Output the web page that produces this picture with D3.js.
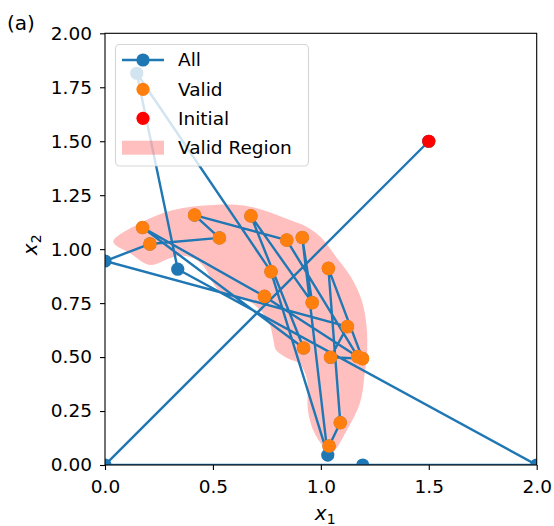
<!DOCTYPE html>
<html>
<head>
<meta charset="utf-8">
<script src="https://cdn.jsdelivr.net/npm/d3@7"></script>
<style>
  body { margin: 0; background: #fff; }
  text { font-family: "DejaVu Sans", sans-serif; fill: #000; }
</style>
</head>
<body>
<div id="chart"></div>
<script>
// trajectory, in visiting order (first point = initial guess)
const allX = [1.5, 0, 1.194, 2, 0.337, 0.147, 0.769, 1.032, 0.914, 0.960, 0.676, 0.920, 0.174,
  0.739, 1.171, 0.842, 0.415, 0.530, 0.208, 0, 1.123, 1.045, 1.193, 1.035, 1.090, 1.038];
const allY = [1.5, 0, 0, 0, 0.907, 1.815, 0.896, 0.046, 1.054, 0.752, 1.154, 0.542, 1.100,
  0.781, 0.502, 1.042, 1.158, 1.052, 1.024, 0.945, 0.641, 0.499, 0.493, 0.911, 0.196, 0.088];
const isValid = [0, 0, 0, 0, 0, 0, 1, 0, 1, 1, 1, 1, 1, 1, 1, 1, 1, 1, 1, 0, 1, 1, 1, 1, 1, 1];
const initial = [1.5, 1.5];

// valid region outline: outer edge then inner edge
const regionX = [0.038, 0.162, 0.316, 0.502, 0.672, 0.857, 0.934, 1.0, 1.07, 1.14, 1.189, 1.212,
  1.214, 1.205, 1.181, 1.104, 1.066, 1.045,
  1.011, 0.964, 0.940, 0.936, 0.903, 0.843, 0.792, 0.780, 0.764, 0.718, 0.656, 0.564, 0.517,
  0.463, 0.425, 0.363, 0.301, 0.208, 0.116];
const regionY = [1.034, 1.12, 1.181, 1.205, 1.197, 1.135, 1.104, 1.055, 0.965, 0.87, 0.764, 0.641,
  0.519, 0.44, 0.286, 0.131, 0.069, 0.052,
  0.085, 0.162, 0.255, 0.394, 0.468, 0.496, 0.533, 0.579, 0.649, 0.718, 0.764, 0.780, 0.819,
  0.911, 0.950, 0.970, 0.958, 0.927, 0.981];

const xTicks = [0, 0.5, 1, 1.5, 2];
const yTicks = [0, 0.25, 0.5, 0.75, 1, 1.25, 1.5, 1.75, 2];
const legendNames = ["All", "Valid", "Initial", "Valid Region"];

const W = 554, H = 526;
const pl = 105, pr = 536.7, pt = 33.3, pb = 465;
const blue = "#1f77b4", orange = "#ff7f0e";
const lw = 2.4;

const svg = d3.select("#chart").append("svg")
  .attr("width", W).attr("height", H);

const x = d3.scaleLinear().domain([0, 2]).range([pl, pr]);
const y = d3.scaleLinear().domain([0, 2]).range([pb, pt]);

svg.append("clipPath").attr("id", "plotclip")
  .append("rect")
  .attr("x", pl).attr("y", pt)
  .attr("width", pr - pl).attr("height", pb - pt);

const plot = svg.append("g").attr("clip-path", "url(#plotclip)");

// valid region
const region = regionX.map((v, i) => [v, regionY[i]]);
plot.append("path")
  .attr("d", d3.line().x(d => x(d[0])).y(d => y(d[1]))
    .curve(d3.curveCatmullRomClosed.alpha(0.5))(region))
  .attr("fill", "red").attr("fill-opacity", 0.25).attr("stroke", "none");

// all points
const pts = allX.map((v, i) => ({ x: v, y: allY[i], ok: isValid[i] }));
plot.append("path")
  .attr("d", d3.line().x(d => x(d.x)).y(d => y(d.y))(pts))
  .attr("fill", "none").attr("stroke", blue).attr("stroke-width", lw)
  .attr("stroke-linejoin", "round");
plot.selectAll("circle.all").data(pts).join("circle")
  .attr("class", "all")
  .attr("cx", d => x(d.x)).attr("cy", d => y(d.y)).attr("r", 6.6)
  .attr("fill", blue);

// valid points
plot.selectAll("circle.valid").data(pts.filter(d => d.ok)).join("circle")
  .attr("class", "valid")
  .attr("cx", d => x(d.x)).attr("cy", d => y(d.y)).attr("r", 6.8)
  .attr("fill", orange);

// initial point
plot.append("circle")
  .attr("cx", x(initial[0])).attr("cy", y(initial[1])).attr("r", 6.6)
  .attr("fill", "red");

// axes
const fs = 18.5;
const xAxis = svg.append("g")
  .attr("transform", `translate(0,${pb})`)
  .call(d3.axisBottom(x).tickValues(xTicks).tickFormat(d3.format(".1f"))
    .tickSize(5).tickPadding(10));
const yAxis = svg.append("g")
  .attr("transform", `translate(${pl},0)`)
  .call(d3.axisLeft(y).tickValues(yTicks).tickFormat(d3.format(".2f"))
    .tickSize(5).tickPadding(8));
[xAxis, yAxis].forEach(g => {
  g.select(".domain").remove();
  g.selectAll(".tick line").attr("stroke", "#000").attr("stroke-width", 1.1);
  g.selectAll(".tick text").attr("font-size", fs)
    .style("font-family", "'DejaVu Sans', sans-serif").attr("fill", "#000");
});

svg.append("rect")
  .attr("x", pl).attr("y", pt)
  .attr("width", pr - pl).attr("height", pb - pt)
  .attr("fill", "none").attr("stroke", "#000").attr("stroke-width", 1.1);

// axis labels
const xl = svg.append("text")
  .attr("x", (pl + pr) / 2 - 6).attr("y", 520)
  .attr("font-size", 20);
xl.append("tspan").attr("font-style", "italic").text("x");
xl.append("tspan").attr("font-size", 14).attr("dy", 4).text("1");

const yl = svg.append("text")
  .attr("transform", `translate(37,${(pt + pb) / 2 + 6}) rotate(-90)`)
  .attr("font-size", 20);
yl.append("tspan").attr("font-style", "italic").text("x");
yl.append("tspan").attr("font-size", 14).attr("dy", 4).text("2");

svg.append("text").attr("x", 7).attr("y", 30)
  .attr("font-size", 20).text("(a)");

// legend
const lg = svg.append("g");
lg.append("rect")
  .attr("x", 115.5).attr("y", 44.5).attr("width", 193).attr("height", 121.5)
  .attr("rx", 4)
  .attr("fill", "#fff").attr("fill-opacity", 0.8)
  .attr("stroke", "#cccccc").attr("stroke-opacity", 0.8).attr("stroke-width", 1.1);

const rowY = [60, 89.3, 118.3, 147.7];
const hx0 = 122, hx1 = 164, hxm = 143;
lg.append("line").attr("x1", hx0).attr("x2", hx1).attr("y1", rowY[0]).attr("y2", rowY[0])
  .attr("stroke", blue).attr("stroke-width", lw);
lg.append("circle").attr("cx", hxm).attr("cy", rowY[0]).attr("r", 6.6).attr("fill", blue);
lg.append("circle").attr("cx", hxm).attr("cy", rowY[1]).attr("r", 6.6).attr("fill", orange);
lg.append("circle").attr("cx", hxm).attr("cy", rowY[2]).attr("r", 6.6).attr("fill", "red");
lg.append("rect").attr("x", hx0).attr("y", rowY[3] - 7).attr("width", hx1 - hx0).attr("height", 14)
  .attr("fill", "red").attr("fill-opacity", 0.25);

lg.selectAll("text.lbl").data(legendNames).join("text")
  .attr("class", "lbl")
  .attr("x", 178).attr("y", (d, i) => rowY[i])
  .attr("dy", "0.35em")
  .attr("font-size", fs)
  .text(d => d);
</script>
</body>
</html>
